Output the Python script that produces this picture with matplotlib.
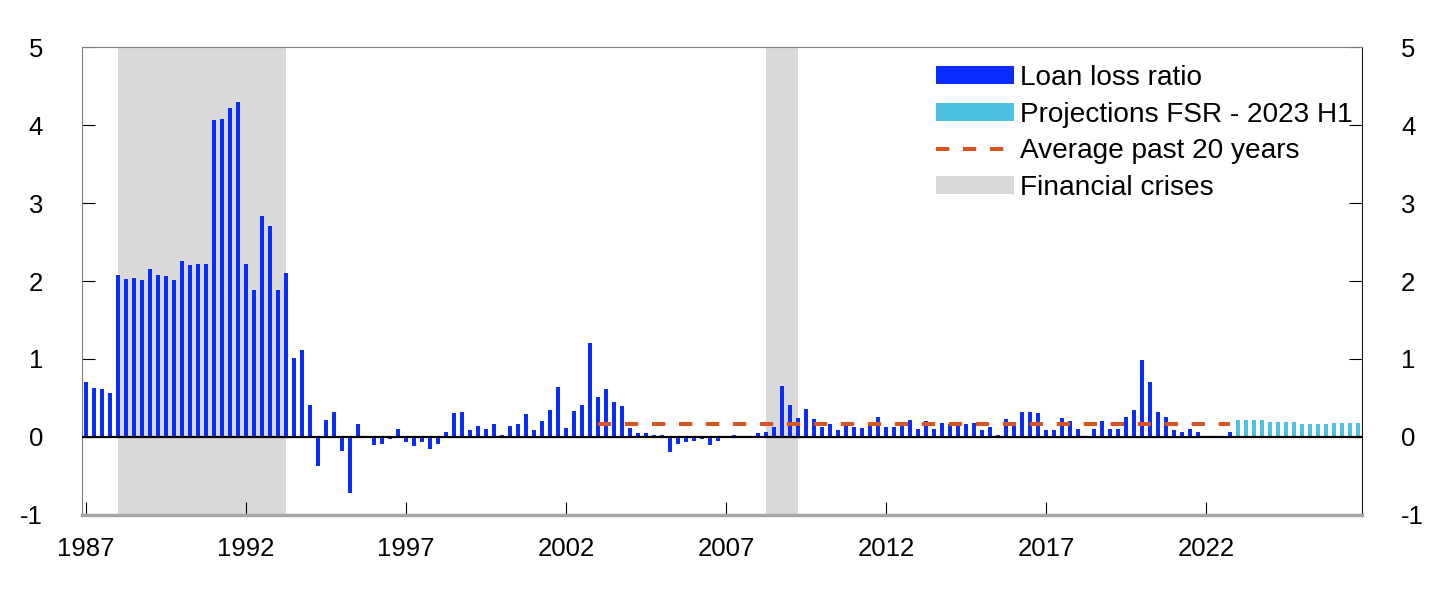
import matplotlib.pyplot as plt
import numpy as np
from matplotlib.patches import Patch
from matplotlib.lines import Line2D

plt.rcParams['font.family'] = ['Liberation Sans', 'DejaVu Sans']
plt.rcParams['axes.unicode_minus'] = False

# quarterly loan loss ratio, 1987 Q1 - 2022 Q4
loss_ratio = [
    0.70, 0.63, 0.61, 0.57,   # 1987
    2.08, 2.02, 2.04, 2.01,   # 1988
    2.16, 2.08, 2.06, 2.01,   # 1989
    2.26, 2.20, 2.22, 2.22,   # 1990
    4.06, 4.08, 4.22, 4.29,   # 1991
    2.22, 1.89, 2.83, 2.70,   # 1992
    1.88, 2.10, 1.01, 1.11,   # 1993
    0.41, -0.37, 0.22, 0.32,  # 1994
    -0.18, -0.72, 0.16, -0.01,  # 1995
    -0.10, -0.09, -0.03, 0.10,  # 1996
    -0.06, -0.11, -0.07, -0.15,  # 1997
    -0.09, 0.06, 0.31, 0.32,  # 1998
    0.09, 0.14, 0.10, 0.16,   # 1999
    0.02, 0.14, 0.16, 0.30,   # 2000
    0.09, 0.20, 0.34, 0.64,   # 2001
    0.12, 0.33, 0.41, 1.20,   # 2002
    0.51, 0.62, 0.45, 0.40,   # 2003
    0.12, 0.05, 0.05, 0.03,   # 2004
    0.02, -0.19, -0.09, -0.06,  # 2005
    -0.05, -0.03, -0.10, -0.05,  # 2006
    0.00, 0.02, 0.00, 0.01,   # 2007
    0.05, 0.06, 0.13, 0.65,   # 2008
    0.41, 0.24, 0.36, 0.23,   # 2009
    0.13, 0.17, 0.09, 0.16,   # 2010
    0.13, 0.12, 0.16, 0.25,   # 2011
    0.13, 0.13, 0.16, 0.22,   # 2012
    0.10, 0.21, 0.10, 0.18,   # 2013
    0.16, 0.16, 0.17, 0.18,   # 2014
    0.09, 0.13, 0.02, 0.23,   # 2015
    0.18, 0.32, 0.32, 0.31,   # 2016
    0.09, 0.09, 0.24, 0.21,   # 2017
    0.10, 0.00, 0.10, 0.20,   # 2018
    0.10, 0.10, 0.26, 0.35,   # 2019
    0.99, 0.71, 0.32, 0.26,   # 2020
    0.09, 0.06, 0.10, 0.06,   # 2021
    0.01, -0.01, 0.01, 0.07,  # 2022
]

# projections 2023 Q1 - 2026 Q4
projections = [0.22, 0.22, 0.22, 0.22,
               0.19, 0.19, 0.19, 0.19,
               0.17, 0.17, 0.17, 0.17,
               0.18, 0.18, 0.18, 0.18]

avg_value = 0.17
avg_period = (2003.0, 2022.75)
crises = [(1988.0, 1993.25), (2008.25, 2009.25)]
year_ticks = [1987, 1992, 1997, 2002, 2007, 2012, 2017, 2022]

t_hist = 1987 + np.arange(len(loss_ratio)) / 4
t_proj = t_hist[-1] + 0.25 + np.arange(len(projections)) / 4

fig = plt.figure(figsize=(14.45, 5.96), dpi=100)
ax = fig.add_axes([0.0567, 0.136, 0.8859, 0.785])

for start, end in crises:
    ax.axvspan(start, end, color='#d9d9d9', lw=0, zorder=0)

ax.bar(t_hist, loss_ratio, width=0.125, color='#0a2cff', zorder=2)
ax.bar(t_proj, projections, width=0.125, color='#4fc1e4', zorder=2)
ax.axhline(0, color='black', lw=1.6, zorder=3)
ax.plot(avg_period, [avg_value, avg_value], color='#d9541e', lw=2.9,
        dashes=(3.3, 3.4), zorder=4)

ax.set_xlim(1986.875, 2026.875)
ax.set_ylim(-1, 5)
ax.set_xticks(year_ticks)
ax.set_xticklabels([str(y) for y in year_ticks])
ax.set_yticks(range(-1, 6))

ax.tick_params(axis='y', direction='in', length=9.5, width=0.8, pad=28,
               labelsize=18.5, left=True, right=True, labelleft=True,
               labelright=True)
ax.tick_params(axis='x', direction='in', length=9.5, width=0.8, pad=16,
               labelsize=18.5)

ax.spines['left'].set_color('#7f7f7f')
ax.spines['top'].set_color('#7f7f7f')
ax.spines['right'].set_color('#1a1a1a')
ax.spines['bottom'].set_color('#a6a6a6')
ax.spines['bottom'].set_linewidth(2.5)

handles = [
    Patch(facecolor='#0a2cff', edgecolor='none'),
    Patch(facecolor='#4fc1e4', edgecolor='none'),
    Line2D([0], [0], color='#d9541e', lw=2.9, dashes=(3.3, 3.4)),
    Patch(facecolor='#d9d9d9', edgecolor='none'),
]
labels = ['Loan loss ratio', 'Projections FSR - 2023 H1',
          'Average past 20 years', 'Financial crises']
ax.legend(handles, labels, loc='upper left', bbox_to_anchor=(0.667, 0.962),
          frameon=False, fontsize=20.2, handlelength=2.8, handleheight=0.62,
          handletextpad=0.2, labelspacing=0.38, borderpad=0, borderaxespad=0)

fig.savefig('out.png', dpi=100)
